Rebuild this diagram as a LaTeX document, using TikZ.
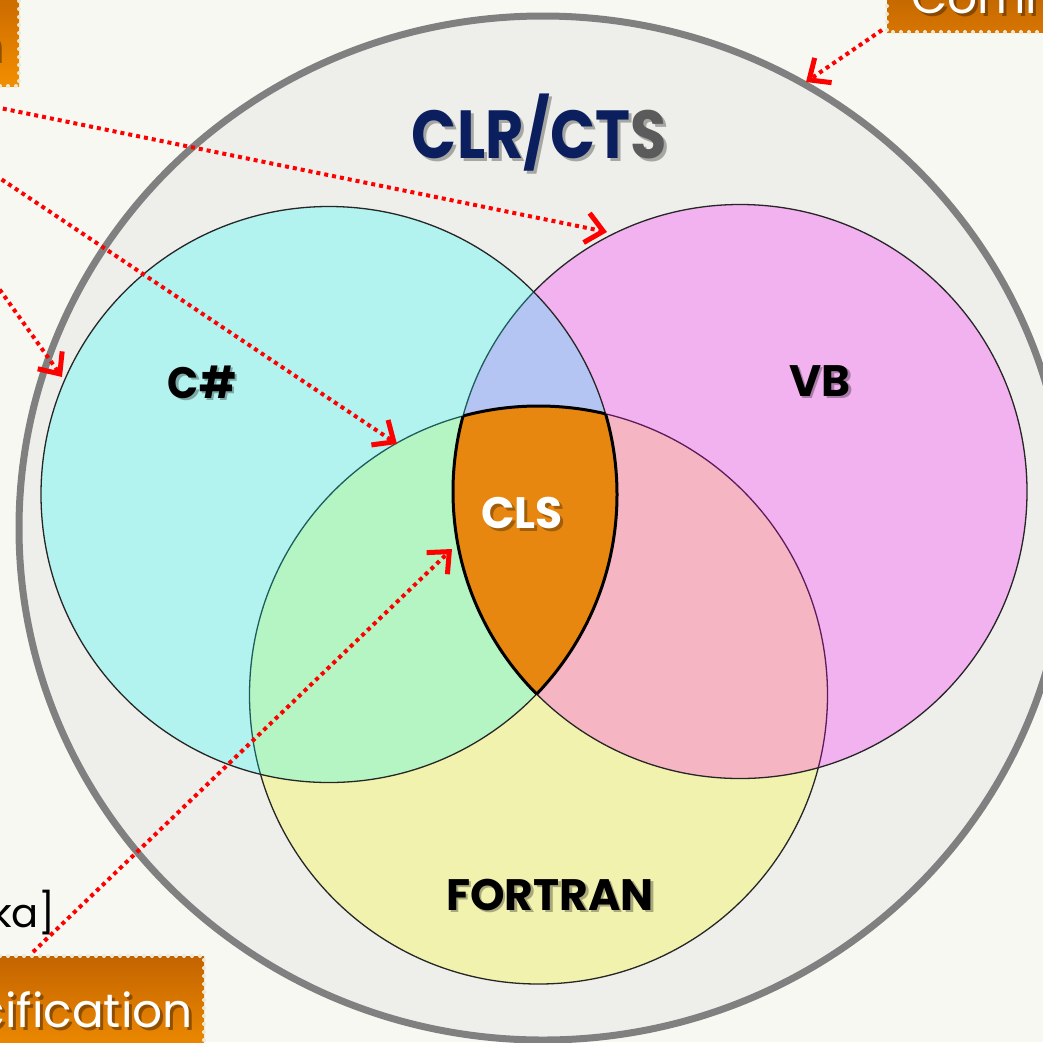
\documentclass[tikz,border=0pt]{standalone}
\usepackage{fontspec}
\setmainfont{Poppins}
\usetikzlibrary{arrows.meta}

\definecolor{paper}{HTML}{F8F8F2}
\definecolor{ringfill}{HTML}{EEEEEA}
\definecolor{ringline}{HTML}{808080}
\definecolor{navy}{HTML}{0B1F5E}
\definecolor{slate}{HTML}{5B5B5B}
\definecolor{clsorange}{HTML}{E8870F}
\definecolor{boxtop}{HTML}{C46400}
\definecolor{boxbot}{HTML}{F28E00}
\definecolor{dotcream}{HTML}{ECE8D2}
\definecolor{arrowred}{RGB}{255,0,0}
\definecolor{vcyan}{RGB}{0,255,255}
\definecolor{vmagenta}{RGB}{255,0,255}
\definecolor{vyellow}{RGB}{255,255,0}
\definecolor{shadowbrown}{HTML}{5A3000}

\begin{document}
\begin{tikzpicture}[x=1pt,y=-1pt,
  venn/.style={fill opacity=0.25, draw=black!85, line width=1.3},
  lbl/.style={font=\fontsize{44}{48}\selectfont\bfseries, inner sep=0, anchor=base},
  lblshadow/.style={lbl, text=black, text opacity=0.3},
  title/.style={lbl, font=\fontsize{68}{72}\selectfont\bfseries},
  titleshadow/.style={title, text=black, text opacity=0.3},
  boxtext/.style={font=\fontsize{47}{52}\selectfont, text=white, inner sep=0},
  boxshadow/.style={boxtext, text=shadowbrown, text opacity=0.6},
  boxedge/.style={draw=dotcream, line width=4, dash pattern=on 0pt off 8pt, line cap=round},
  callout/.style={draw=arrowred, line width=4, dash pattern=on 4pt off 4pt,
    -{Straight Barb[length=17pt,width=30pt,line width=5pt]}},
]
\useasboundingbox (0,0) rectangle (1043,1042);
\fill[paper] (0,0) rectangle (1043,1042);

\begin{scope}
\clip (0,0) rectangle (1043,1042);

% outer ring (runtime / type system)
\draw[ringline, line width=7, fill=ringfill] (543,528) ellipse [x radius=524pt, y radius=512pt];

% language circles
\coordinate (ftc) at (538.5,695);
\coordinate (vbc) at (740,491.5);
\coordinate (csc) at (329,494.5);
\path[venn, fill=vyellow]  (ftc) circle [radius=289pt];
\path[venn, fill=vmagenta] (vbc) circle [radius=287pt];
\path[venn, fill=vcyan]    (csc) circle [radius=288pt];

% common core: intersection of all three circles
\begin{scope}
  \clip (csc) circle [radius=288pt];
  \clip (vbc) circle [radius=287pt];
  \fill[clsorange] (ftc) circle [radius=289pt];
\end{scope}
\begin{scope}
  \clip (vbc) circle [radius=287pt];
  \clip (ftc) circle [radius=289pt];
  \draw[line width=3] (csc) circle [radius=288pt];
\end{scope}
\begin{scope}
  \clip (csc) circle [radius=288pt];
  \clip (ftc) circle [radius=289pt];
  \draw[line width=3] (vbc) circle [radius=287pt];
\end{scope}
\begin{scope}
  \clip (csc) circle [radius=288pt];
  \clip (vbc) circle [radius=287pt];
  \draw[line width=3] (ftc) circle [radius=289pt];
\end{scope}

% labels
\node[titleshadow] (clr-sh) at (542.5,161) {\scalebox{0.87}[1]{CLR/CTS}};
\node[title] (clr) at (539.5,158) {\scalebox{0.87}[1]{\color{navy}CLR/CT\color{slate}S}};
\node[lblshadow] (csharp-sh) at (204.5,400.5) {\scalebox{0.93}[1]{C\#}};
\node[lbl] (csharp) at (202,398) {\scalebox{0.93}[1]{C\#}};
\node[lblshadow] (vb-sh) at (822.5,398.5) {VB};
\node[lbl] (vb) at (820,396) {VB};
\node[lblshadow] (cls-sh) at (525,531) {CLS};
\node[lbl, text=white] (cls) at (522,528) {CLS};
\node[lblshadow] (fortran-sh) at (552.5,912.5) {FORTRAN};
\node[lbl] (fortran) at (550,910) {FORTRAN};

% side note text
\node[font=\fontsize{40}{44}\selectfont, inner sep=0, anchor=base east] (note) at (56,927) {ka]};

% caption boxes
\shade[top color=boxtop, bottom color=boxbot] (-20,-20) rectangle (19,86);
\draw[boxedge] (-8,86) -- (19,86) -- (19,-10);
\node[boxshadow, anchor=base east] (tl-sh) at (6,63) {n};
\node[boxtext, anchor=base east] (tlbox) at (3,60) {n};

\shade[top color=boxtop!85!black, bottom color=boxtop!60!boxbot] (887,-60) rectangle (1100,32);
\draw[boxedge] (887,-10) -- (887,32) -- (1060,32);
\node[boxshadow, anchor=base west] (tr-sh) at (914,16) {Common};
\node[boxtext, anchor=base west] (trbox) at (911,13) {Common};

\shade[top color=boxtop, bottom color=boxbot] (-20,956) rectangle (204,1060);
\draw[boxedge] (-8,956) -- (204,956) -- (204,1060);
\node[boxshadow, anchor=base east] (bl-sh) at (196,1030) {Specification};
\node[boxtext, anchor=base east] (blbox) at (193,1027) {Specification};

% callout arrows
\coordinate (tl-a) at (-5,107);  \coordinate (vb-tip) at (607,232);
\coordinate (tl-b) at (-5,175);  \coordinate (ft-tip) at (397,444);
\coordinate (tl-c) at (-5,283);  \coordinate (cs-tip) at (62,377);
\coordinate (bl-a) at (33,952);  \coordinate (cls-tip) at (452,549);
\coordinate (tr-a) at (882,30);  \coordinate (ring-tip) at (806,82);
\draw[callout] (tl-a) -- (vb-tip);
\draw[callout] (tl-b) -- (ft-tip);
\draw[callout] (tl-c) -- (cs-tip);
\draw[callout] (bl-a) -- (cls-tip);
\draw[callout] (tr-a) -- (ring-tip);
\end{scope}
\end{tikzpicture}
\end{document}
